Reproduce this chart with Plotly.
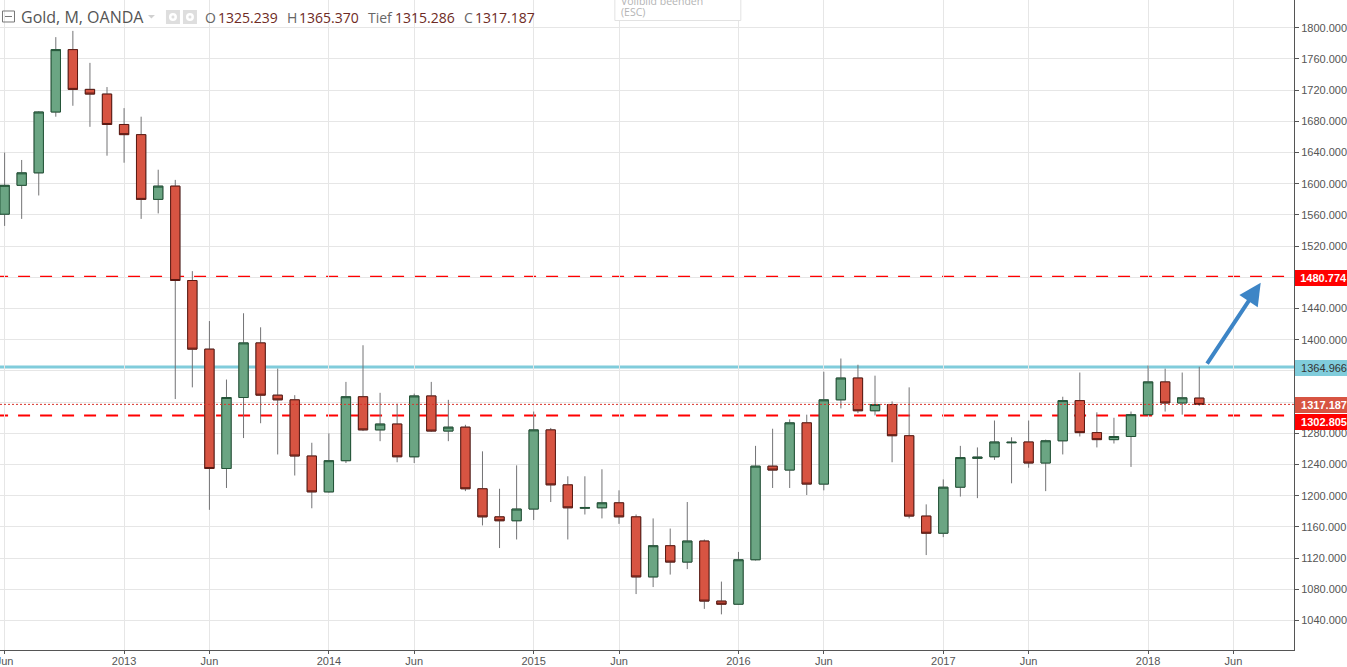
import plotly.graph_objects as go

months = [f"{y}-{m:02d}" for y, m in
          [(2012, m) for m in range(6, 13)] +
          [(y, m) for y in range(2013, 2018) for m in range(1, 13)] +
          [(2018, m) for m in range(1, 7)]]
traded = months[:71]

opens = [1561, 1598, 1614, 1692, 1772, 1721, 1715, 1676, 1663, 1580, 1597, 1476, 1388, 1235, 1326, 1396, 1329, 1323,
         1251, 1205, 1245, 1327, 1284.5, 1292, 1250, 1328, 1283, 1288, 1209, 1173, 1168, 1183, 1284.5, 1214, 1184,
         1184.6, 1191, 1173, 1096, 1136, 1115, 1142, 1065, 1061, 1118, 1238, 1233, 1293.5, 1215, 1323, 1351, 1309,
         1317, 1277, 1174, 1152, 1211, 1248, 1250, 1268, 1269, 1242, 1270.5, 1322, 1281, 1272, 1276, 1304, 1346,
         1319, 1325.239]
highs = [1640, 1630.5, 1693, 1788, 1796, 1755, 1724, 1697, 1686, 1618, 1605, 1488, 1424, 1349, 1434, 1416, 1363,
         1329, 1268, 1280, 1346, 1393, 1332, 1318, 1331, 1346, 1323, 1291, 1257, 1209, 1239, 1308, 1287, 1225, 1225,
         1234, 1207, 1176, 1171, 1158, 1192, 1144, 1090, 1128, 1264, 1286, 1298, 1304, 1359, 1376, 1368, 1354, 1321,
         1339, 1189, 1221, 1264, 1262, 1296.5, 1275, 1296.5, 1272, 1327, 1358, 1307, 1300, 1308, 1367, 1363, 1358,
         1365.37]
lows = [1546, 1555, 1585, 1686, 1700, 1673, 1636, 1627, 1555, 1562, 1324, 1339, 1182, 1210, 1274, 1293, 1253, 1226,
        1184, 1204, 1242, 1283, 1270, 1243, 1242, 1282, 1270, 1206, 1162, 1133, 1144, 1169, 1192, 1144, 1176, 1171,
        1164, 1074, 1083, 1099, 1106, 1055, 1048, 1060, 1117, 1210, 1210, 1201, 1207, 1312, 1306, 1303, 1243, 1171,
        1124, 1147, 1199, 1197, 1246, 1216, 1236, 1206, 1253, 1276, 1262, 1267, 1237, 1303, 1308, 1304, 1315.286]
closes = [1598, 1614, 1692, 1772, 1721, 1715, 1676, 1663, 1580, 1597, 1476, 1388, 1235, 1326, 1396, 1329, 1323, 1251,
          1205, 1245, 1327, 1284.5, 1292, 1250, 1328, 1283, 1288, 1209, 1173, 1168, 1183, 1284.5, 1214, 1184.6, 1185,
          1191, 1173, 1096, 1136, 1115, 1142, 1065, 1061, 1118, 1238, 1233, 1293.5, 1215, 1323, 1351, 1309, 1317,
          1277, 1174, 1152, 1211, 1249, 1249.5, 1269, 1268.6, 1242, 1270.5, 1322, 1281, 1272, 1276, 1304, 1346, 1319,
          1325.6, 1317.187]

y_ticks = [1040, 1080, 1120, 1160, 1200, 1240, 1280, 1320, 1360, 1400, 1440, 1480, 1520, 1560, 1600, 1640, 1680,
           1720, 1760, 1800]
x_tick_vals = ["2012-06", "2013-01", "2013-06", "2014-01", "2014-06", "2015-01", "2015-06", "2016-01", "2016-06",
               "2017-01", "2017-06", "2018-01", "2018-06"]
x_tick_text = ["Jun", "2013", "Jun", "2014", "Jun", "2015", "Jun", "2016", "Jun", "2017", "Jun", "2018", "Jun"]

target_level = 1480.774
resistance_level = 1364.966
last_price = 1317.187
support_level = 1302.805
arrow_from = (70.4, 1367.4)
arrow_to = (73.6, 1473)

WIDTH, HEIGHT = 1347, 667
PLOT_W, PLOT_H = 1294.3, 650.3
AXIS = "#555555"
TICK_FONT = "Liberation Sans, Arial, sans-serif"
HEAD_FONT = "Open Sans, sans-serif"


def px(x):
    return x / PLOT_W


def py(y):
    return 1 - y / PLOT_H


fig = go.Figure()
# wicks
fig.add_trace(go.Candlestick(
    x=traded, open=opens, high=highs, low=lows, close=closes, whiskerwidth=0, hoverinfo="skip",
    increasing=dict(line=dict(color="#737375", width=1), fillcolor="#737375"),
    decreasing=dict(line=dict(color="#737375", width=1), fillcolor="#737375"),
    showlegend=False))
# bodies with dark outline
fig.add_trace(go.Candlestick(
    x=traded, open=opens, close=closes,
    high=[max(o, c) for o, c in zip(opens, closes)],
    low=[min(o, c) for o, c in zip(opens, closes)],
    whiskerwidth=0,
    increasing=dict(line=dict(color="#225437", width=1), fillcolor="#6ba583"),
    decreasing=dict(line=dict(color="#5b1a13", width=1), fillcolor="#d75442"),
    showlegend=False))

shapes = []
for level in (target_level, support_level):
    shapes.append(dict(type="line", xref="x", yref="y", x0=-0.5, x1=75.6, y0=level, y1=level, layer="below",
                       line=dict(color="#ff0000", width=2, dash="12px,10px")))
shapes.append(dict(type="line", xref="paper", yref="y", x0=0, x1=1, y0=resistance_level, y1=resistance_level,
                   layer="below", line=dict(color="#80ccdb", width=3)))
shapes.append(dict(type="line", xref="paper", yref="y", x0=0, x1=1, y0=last_price, y1=last_price, layer="above",
                   line=dict(color="#d9342b", width=1, dash="2px,2px")))


def deco_rect(x0, y0, x1, y1, **kw):
    return dict(type="rect", xref="paper", yref="paper", x0=px(x0), x1=px(x1), y0=py(y0), y1=py(y1), **kw)


def deco_circle(x0, y0, x1, y1, **kw):
    d = deco_rect(x0, y0, x1, y1, **kw)
    d["type"] = "circle"
    return d


shapes += [
    deco_rect(2.5, 11, 14.5, 22, line=dict(color="#777777", width=1), fillcolor="rgba(0,0,0,0)"),
    dict(type="line", xref="paper", yref="paper", x0=px(5), x1=px(12), y0=py(16.5), y1=py(16.5),
         line=dict(color="#777777", width=1)),
    dict(type="path", xref="paper", yref="paper",
         path=f"M {px(148)} {py(15)} L {px(155)} {py(15)} L {px(151.5)} {py(18.5)} Z",
         fillcolor="#d0d0d0", line=dict(width=0)),
    deco_rect(166, 10, 180, 24, fillcolor="#dedede", line=dict(width=0)),
    deco_circle(169, 13, 177, 21, fillcolor="#ffffff", line=dict(width=0)),
    deco_circle(171.5, 15.5, 174.5, 18.5, fillcolor="#dedede", line=dict(width=0)),
    deco_rect(183, 10, 197, 24, fillcolor="#dedede", line=dict(width=0)),
    deco_circle(186, 13, 194, 21, fillcolor="#ffffff", line=dict(width=0)),
    deco_circle(188.5, 15.5, 191.5, 18.5, fillcolor="#dedede", line=dict(width=0)),
    deco_rect(615, -6, 741, 20.5, fillcolor="#ffffff", line=dict(color="#e2e2e2", width=1)),
]

annotations = []


def header(text, x, color, size=14):
    annotations.append(dict(text=text, xref="paper", yref="paper", x=px(x), y=py(17.5), xanchor="left",
                            yanchor="middle", showarrow=False, borderpad=0,
                            font=dict(family=HEAD_FONT, size=size, color=color)))


GREY, BROWN = "#666666", "#6e2a24"
header("Gold, M, OANDA", 20, "#555555", 16)
header("O", 204.5, GREY)
header(f"{opens[-1]:.3f}", 217, BROWN)
header("H", 286, GREY)
header(f"{highs[-1]:.3f}", 298, BROWN)
header("Tief", 367, GREY)
header(f"{lows[-1]:.3f}", 394.5, BROWN)
header("C", 463, GREY)
header(f"{closes[-1]:.3f}", 474, BROWN)

for text, y in (("Vollbild beenden", 1), ("(ESC)", 12.5)):
    annotations.append(dict(text=text, xref="paper", yref="paper", x=px(619), y=py(y), xanchor="left",
                            yanchor="middle", showarrow=False,
                            font=dict(family=HEAD_FONT, size=10.5, color="#b4b4b4")))


def tag(level, bg, fg, shift=-1, bold=True):
    text = f"<b>{level:.3f}</b>" if bold else f"{level:.3f}"
    annotations.append(dict(text=text, xref="paper", yref="y", x=px(1295), y=level, yshift=shift, xanchor="left",
                            yanchor="middle", showarrow=False, width=52, height=16, bgcolor=bg, borderwidth=0,
                            borderpad=0, align="right",
                            font=dict(family=TICK_FONT, size=11, color=fg)))


tag(target_level, "#ff0000", "#ffffff")
tag(resistance_level, "#80ccdb", "#333333", bold=False)
tag(last_price, "#d75442", "#ffffff")
tag(support_level, "#ff0000", "#ffffff", shift=-6)

annotations.append(dict(text="", x=arrow_to[0], y=arrow_to[1], ax=arrow_from[0], ay=arrow_from[1], xref="x", yref="y",
                        axref="x", ayref="y", showarrow=True, arrowhead=2, arrowsize=1.1, arrowwidth=4,
                        arrowcolor="#3d85c6"))

fig.update_layout(
    width=WIDTH, height=HEIGHT,
    margin=dict(l=0, r=WIDTH - PLOT_W, t=0, b=HEIGHT - PLOT_H, pad=0, autoexpand=False),
    paper_bgcolor="#ffffff", plot_bgcolor="#ffffff", showlegend=False, dragmode=False,
    boxmode="overlay", boxgap=0.22, boxgroupgap=0.3,
    shapes=shapes, annotations=annotations,
    xaxis=dict(type="category", categoryorder="array", categoryarray=months, range=[-0.27, 75.55],
               tickmode="array", tickvals=x_tick_vals, ticktext=x_tick_text, ticks="outside", ticklen=3, tickwidth=1,
               tickcolor=AXIS, showline=True, linecolor=AXIS, linewidth=1, gridcolor="#e6e6e6", gridwidth=1,
               showgrid=True, zeroline=False, rangeslider=dict(visible=False), fixedrange=True, ticklabelstandoff=-2,
               tickfont=dict(family=TICK_FONT, size=11, color=AXIS)),
    yaxis=dict(side="right", range=[1002.3, 1835.6], tickmode="array", tickvals=y_ticks, tickformat=".3f",
               ticks="outside", ticklen=4, tickwidth=1, tickcolor=AXIS, showline=True, linecolor=AXIS, linewidth=1,
               gridcolor="#e6e6e6", gridwidth=1, showgrid=True, zeroline=False, fixedrange=True,
               tickfont=dict(family=TICK_FONT, size=11, color=AXIS)),
)

fig.write_html("out.html", config=dict(displayModeBar=False),
               post_script="document.body.style.margin='0';document.body.style.overflow='hidden';")
